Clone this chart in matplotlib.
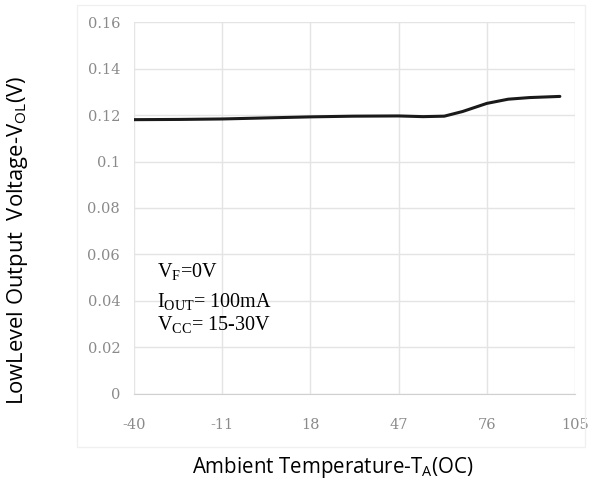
import matplotlib.pyplot as plt
from matplotlib.patches import Rectangle

plt.rcParams['axes.unicode_minus'] = False

# data
temp = [-40, -25, -11, 5, 18, 32, 47, 55, 62, 68, 76, 83, 90, 100]
vol = [0.1180, 0.1181, 0.1183, 0.1188, 0.1192, 0.1195, 0.1196, 0.1193, 0.1195,
       0.1215, 0.1250, 0.1268, 0.1275, 0.1280]

x_ticks = [-40, -11, 18, 47, 76, 105]
y_ticks = [0, 0.02, 0.04, 0.06, 0.08, 0.1, 0.12, 0.14, 0.16]
y_tick_labels = ['0', '0.02', '0.04', '0.06', '0.08', '0.1', '0.12', '0.14', '0.16']

fig = plt.figure(figsize=(5.92, 4.84), dpi=100)
ax = fig.add_axes([0.2264, 0.186, 0.745, 0.7685])

# faint chart-area border
fig.patches.append(Rectangle((0.13, 0.077), 0.858, 0.913, transform=fig.transFigure,
                             fill=False, edgecolor='#f0f0f0', linewidth=1))

ax.plot(temp, vol, color='#1a1a1a', linewidth=2.2, solid_capstyle='round')

ax.set_xlim(-40, 105)
ax.set_ylim(0, 0.16)
ax.set_xticks(x_ticks)
ax.set_yticks(y_ticks)
ax.set_yticklabels(y_tick_labels)
ax.grid(True, color='#e4e4e4', linewidth=1)
ax.set_axisbelow(True)
ax.tick_params(length=0, pad=10, labelsize=10.5, labelcolor='#8a8a8a')
ax.tick_params(axis='x', pad=17)
for lab in ax.get_xticklabels() + ax.get_yticklabels():
    lab.set_family('DejaVu Serif')
for side in ['top', 'right', 'left']:
    ax.spines[side].set_visible(False)
ax.spines['bottom'].set_color('#d0d0d0')

fig.text(0.5625, 0.035, r'Ambient Temperature-$\mathregular{T_A}$(OC)', family='Open Sans',
         fontsize=14.8, ha='center', va='center')
fig.text(0.03, 0.504, r'LowLevel Output  Voltage-$\mathregular{V_{OL}}$(V)', family='Open Sans',
         fontsize=15.8, rotation=90, ha='center', va='center')

ax.text(-32.5, 0.0503, r'$\mathregular{V_F}$=0V', family='Liberation Serif', fontsize=14.5)
ax.text(-32.5, 0.0374, r'$\mathregular{I_{OUT}}$= 100mA', family='Liberation Serif', fontsize=14.5)
ax.text(-32.5, 0.0275, r'$\mathregular{V_{CC}}$= 15-30V', family='Liberation Serif', fontsize=14.5)

fig.savefig('out.png', dpi=100)
